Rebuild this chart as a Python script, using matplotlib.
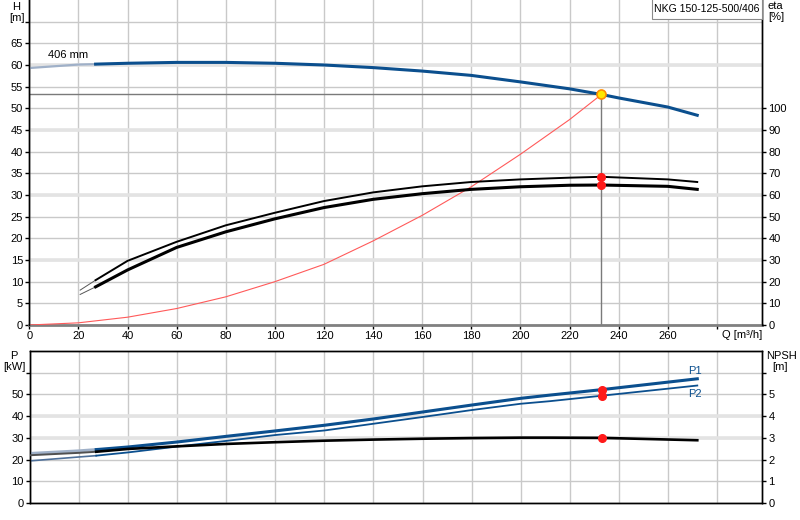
import numpy as np
import matplotlib
matplotlib.use("Agg")
import matplotlib.pyplot as plt

plt.rcParams['font.family'] = ['Liberation Sans', 'DejaVu Sans']
plt.rcParams['font.size'] = 8

# ---------------- data ----------------
q_head = [0, 20, 27, 40, 60, 80, 100, 120, 140, 160, 180, 200, 220, 233, 240, 260, 272]
head = [59.3, 60.1, 60.2, 60.4, 60.6, 60.6, 60.4, 60.0, 59.4, 58.6, 57.6, 56.1, 54.5, 53.2, 52.4, 50.3, 48.4]

q_sys = [0, 20, 40, 60, 80, 100, 120, 140, 160, 180, 200, 220, 233]
h_sys = [0, 0.5, 1.8, 3.8, 6.5, 10.0, 14.0, 19.4, 25.3, 31.9, 39.4, 47.4, 53.2]

q_eta = [20.7, 27, 40, 60, 80, 100, 120, 140, 160, 180, 200, 220, 233, 260, 272]
eta_pump = [16.1, 20.7, 29.6, 38.4, 46.0, 51.8, 57.2, 61.2, 64.0, 66.0, 67.2, 68.0, 68.4, 67.2, 66.0]
eta_total = [14.1, 17.6, 25.4, 35.8, 43.0, 49.0, 54.2, 58.0, 60.6, 62.6, 63.8, 64.5, 64.6, 64.0, 62.6]

q_pow = [0, 20, 27, 40, 60, 80, 100, 120, 140, 160, 180, 200, 212, 233, 272]
p1 = [22.8, 24.0, 24.6, 25.8, 28.1, 30.7, 33.2, 35.8, 38.7, 41.9, 45.1, 48.2, 49.7, 52.2, 57.2]
p2 = [19.4, 21.2, 21.8, 23.3, 26.0, 28.6, 31.3, 33.4, 36.5, 39.6, 42.8, 45.7, 46.9, 49.4, 54.1]
npsh = [2.20, 2.31, 2.36, 2.49, 2.61, 2.72, 2.80, 2.87, 2.92, 2.96, 2.99, 3.01, 3.01, 3.00, 2.89]

duty_q = 233
duty_h = 53.2
duty_eta = [68.4, 64.6]
duty_p = [52.2, 49.4]
duty_npsh = 3.0

q_ticks = list(range(0, 281, 20))
q_labels = [str(v) if v <= 260 else '' for v in q_ticks]
h_ticks = list(range(0, 71, 5))
h_labels = [str(v) if v <= 65 else '' for v in h_ticks]
eta_ticks = list(range(0, 101, 10))
p_ticks = list(range(0, 61, 10))
p_labels = [str(v) if v <= 50 else '' for v in p_ticks]
npsh_ticks = list(range(0, 7))
npsh_labels = [str(v) if v <= 5 else '' for v in npsh_ticks]

title = 'NKG 150-125-500/406'
# -----------------------------------------------------------------

W, H = 800, 520
BLUE = '#0b4f8e'
LIGHTBLUE = '#9fb0c8'
GRID = '#c9c9c9'
GRID2 = '#e3e3e3'
n_ext = 2  # index where the valid (solid) part starts (q = 27)

fig = plt.figure(figsize=(8, 5.2), dpi=100)

def style(ax):
    ax.set_axisbelow(True)
    ax.tick_params(direction='out', length=3, width=1, colors='black', pad=1.5, labelsize=8)
    for s in ax.spines.values():
        s.set_color('black')
        s.set_linewidth(1)

# ---------------- top axes: head / efficiency ----------------
ax = fig.add_axes([29.3 / W, 1 - 325 / H, (762.3 - 29.3) / W, 325 / H])
ax.set_xlim(0, 298.5)
ax.set_ylim(0, 75)
ax.set_xticks(q_ticks)
ax.set_xticklabels(q_labels)
ax.set_yticks(h_ticks)
ax.set_yticklabels(h_labels)
style(ax)
ax.grid(True, color=GRID, lw=1)
for v in (15, 30, 45, 60):
    ax.axhline(v, color=GRID2, lw=2.6, zorder=0.6)
ax.spines['bottom'].set_color('#808080')
ax.spines['bottom'].set_linewidth(2)
ax.spines['top'].set_visible(False)

ax2 = ax.twinx()
ax2.set_ylim(0, 150)
ax2.set_yticks(eta_ticks)
style(ax2)
ax2.spines['top'].set_visible(False)
ax2.spines['bottom'].set_visible(False)

# operating point lines
ax.plot([0, duty_q], [duty_h, duty_h], color='#7a7a7a', lw=1, zorder=2)
ax.plot([duty_q, duty_q], [0, duty_h], color='#7a7a7a', lw=1, zorder=2)

# system curve
ax.plot(q_sys, h_sys, color='#ff5a5a', lw=0.8, zorder=3)

# head curve
ax.plot(q_head[:n_ext + 1], head[:n_ext + 1], color=LIGHTBLUE, lw=1.6, zorder=4)
ax.plot(q_head[n_ext:], head[n_ext:], color=BLUE, lw=2.2, zorder=4)

# efficiency curves
ax2.plot(q_eta[:2], eta_pump[:2], color='#555555', lw=0.7, zorder=4)
ax2.plot(q_eta[:2], eta_total[:2], color='#555555', lw=0.7, zorder=4)
ax2.plot(q_eta[1:], eta_pump[1:], color='black', lw=1.4, zorder=4)
ax2.plot(q_eta[1:], eta_total[1:], color='black', lw=2.2, zorder=4)
ax2.plot([duty_q] * 2, duty_eta, 'o', ms=5.5, color='#ff1a1a', zorder=6)

ax.plot([duty_q], [duty_h], 'o', ms=6.5, mfc='#ffe800', mec='#ff8c00', mew=1.2, zorder=7)
ax.text(7.5, 62.4, '406 mm', va='center', ha='left', fontsize=8)

# ---------------- bottom axes: power / NPSH ----------------
bx = fig.add_axes([30 / W, 1 - 503 / H, (762.3 - 30) / W, 152 / H])
bx.set_xlim(0, 298.5)
bx.set_ylim(0, 70)
bx.set_xticks(q_ticks)
bx.set_xticklabels([])
bx.set_yticks(p_ticks)
bx.set_yticklabels(p_labels)
style(bx)
bx.tick_params(axis='x', length=0)
bx.grid(True, color=GRID, lw=1)
for v in (30, 40):
    bx.axhline(v, color=GRID2, lw=2.6, zorder=0.6)

bx2 = bx.twinx()
bx2.set_ylim(0, 7)
bx2.set_yticks(npsh_ticks)
bx2.set_yticklabels(npsh_labels)
style(bx2)

bx.plot(q_pow[:n_ext + 1], p1[:n_ext + 1], color=LIGHTBLUE, lw=2.2, zorder=4)
bx.plot(q_pow[n_ext:], p1[n_ext:], color=BLUE, lw=2.2, zorder=4)
bx.plot(q_pow[:n_ext + 1], p2[:n_ext + 1], color='#4d6f99', lw=1.2, zorder=4)
bx.plot(q_pow[n_ext:], p2[n_ext:], color=BLUE, lw=1.3, zorder=4)
bx2.plot(q_pow[:n_ext + 1], npsh[:n_ext + 1], color='#505050', lw=1.4, zorder=4)
bx2.plot(q_pow[n_ext:], npsh[n_ext:], color='black', lw=1.9, zorder=4)
bx.plot([duty_q] * 2, duty_p, 'o', ms=5.5, color='#ff1a1a', zorder=6)
bx2.plot([duty_q], [duty_npsh], 'o', ms=5.5, color='#ff1a1a', zorder=6)

bx.text(q_pow[-1] - 1, p1[-1] + 3.5, 'P1', color=BLUE, fontsize=8, ha='center', va='center')
bx.text(q_pow[-1] - 1, p2[-1] - 4.0, 'P2', color=BLUE, fontsize=8, ha='center', va='center')

# ---------------- axis titles ----------------
def ftext(x, y, s, **kw):
    fig.text(x / W, 1 - y / H, s, fontsize=8, va='baseline', **kw)

ftext(16, 9.5, 'H', ha='center')
ftext(17, 21, '[m]', ha='center')
ftext(768, 9, 'eta', ha='left')
ftext(768, 20.5, '[%]', ha='left')
ftext(14, 359, 'P', ha='center')
ftext(14, 370, '[kW]', ha='center')
ftext(766, 359, 'NPSH', ha='left')
ftext(780, 370.5, '[m]', ha='center')
ftext(722, 338, 'Q [m³/h]', ha='left')

fig.add_artist(plt.Rectangle((652 / W, 1 - 19 / H), 110 / W, 19 / H + 0.01,
                             transform=fig.transFigure, fc='white', ec='#8a8a8a',
                             lw=0.8, zorder=5))
fig.text(707 / W, 1 - 12.5 / H, title, fontsize=7.6, ha='center', va='baseline', zorder=6)

fig.savefig('out.png', dpi=100)
